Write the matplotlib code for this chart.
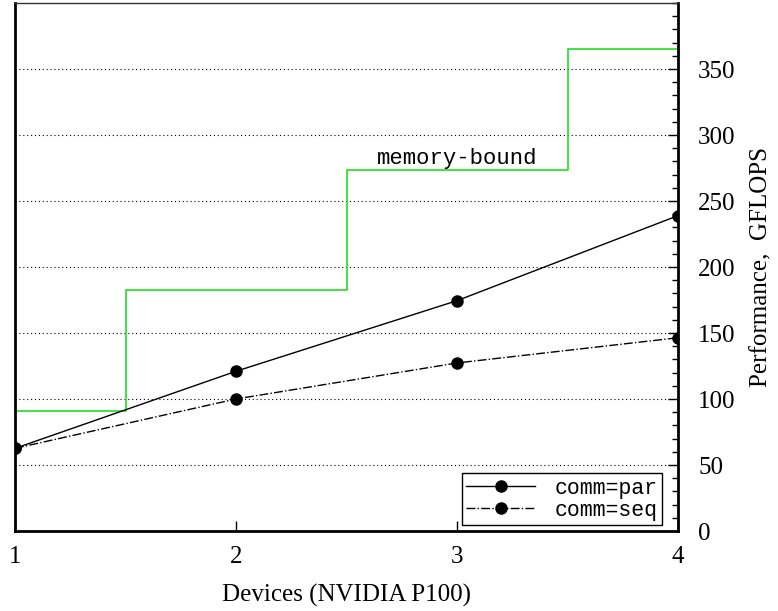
"""Multi-GPU scaling plot: measured GFLOPS vs. memory-bound ceiling."""

import matplotlib

matplotlib.use("Agg")
import matplotlib.pyplot as plt
from matplotlib.ticker import MultipleLocator

devices = [1, 2, 3, 4]
perf_par = [62.6, 121.0, 174.5, 238.9]
perf_seq = [62.6, 100.0, 127.3, 146.4]

# memory-bound ceiling, one step per device count
bound_x = [1.0, 1.5, 2.5, 3.5, 4.0]
bound_y = [91.2, 182.4, 273.6, 364.8, 364.8]

serif = ["Liberation Serif", "DejaVu Serif"]
mono = ["Liberation Mono", "DejaVu Sans Mono"]

fig = plt.figure(figsize=(7.78, 6.11), dpi=100)
ax = fig.add_axes([15 / 778, 80 / 611, 663 / 778, 528 / 611])

ax.step(bound_x, bound_y, where="post", color="#22dd22", lw=1.2)
ax.text(3.0, 282, "memory-bound", family=mono, fontsize=16, ha="center", va="center")

ax.plot(devices, perf_par, color="black", lw=1.0, marker="o", ms=8, label="comm=par")
ax.plot(devices, perf_seq, color="black", lw=1.0, ls="-.", marker="o", ms=8,
        label="comm=seq")

ax.set_xlim(1, 4)
ax.set_ylim(0, 400)
ax.set_xticks(devices)
ax.yaxis.set_minor_locator(MultipleLocator(10))
ax.set_yticks([0, 50, 100, 150, 200, 250, 300, 350])
ax.yaxis.tick_right()
ax.yaxis.set_label_position("right")
ax.tick_params(axis="y", which="major", direction="in", length=7, width=1.0,
               pad=14.5, labelsize=18)
ax.tick_params(axis="y", which="minor", direction="in", length=4, width=1.0)
ax.tick_params(axis="x", direction="in", length=7, width=1.0, pad=11, labelsize=18)
for lab in ax.get_xticklabels() + ax.get_yticklabels():
    lab.set_family(serif)

ax.grid(axis="y", which="major", color="black", ls=(0, (1, 2.5)), lw=0.8)
for side in ["left", "bottom", "right"]:
    ax.spines[side].set_linewidth(2.0)
ax.spines["top"].set_linewidth(1.0)
ax.spines["top"].set_color("#333333")

ax.set_xlabel("Devices (NVIDIA P100)", family=serif, fontsize=18, labelpad=11)
ax.set_ylabel("Performance,  GFLOPS", family=serif, fontsize=18, labelpad=11)

leg = ax.legend(loc="lower right", bbox_to_anchor=(647 / 663, 6 / 528),
                prop={"family": mono, "size": 15.5},
                fancybox=False, framealpha=1, edgecolor="black",
                borderaxespad=0, handlelength=3.2, borderpad=0.2,
                labelspacing=0.05, handletextpad=0.9)
leg.get_frame().set_linewidth(1.0)

fig.savefig("out.png", dpi=100)
